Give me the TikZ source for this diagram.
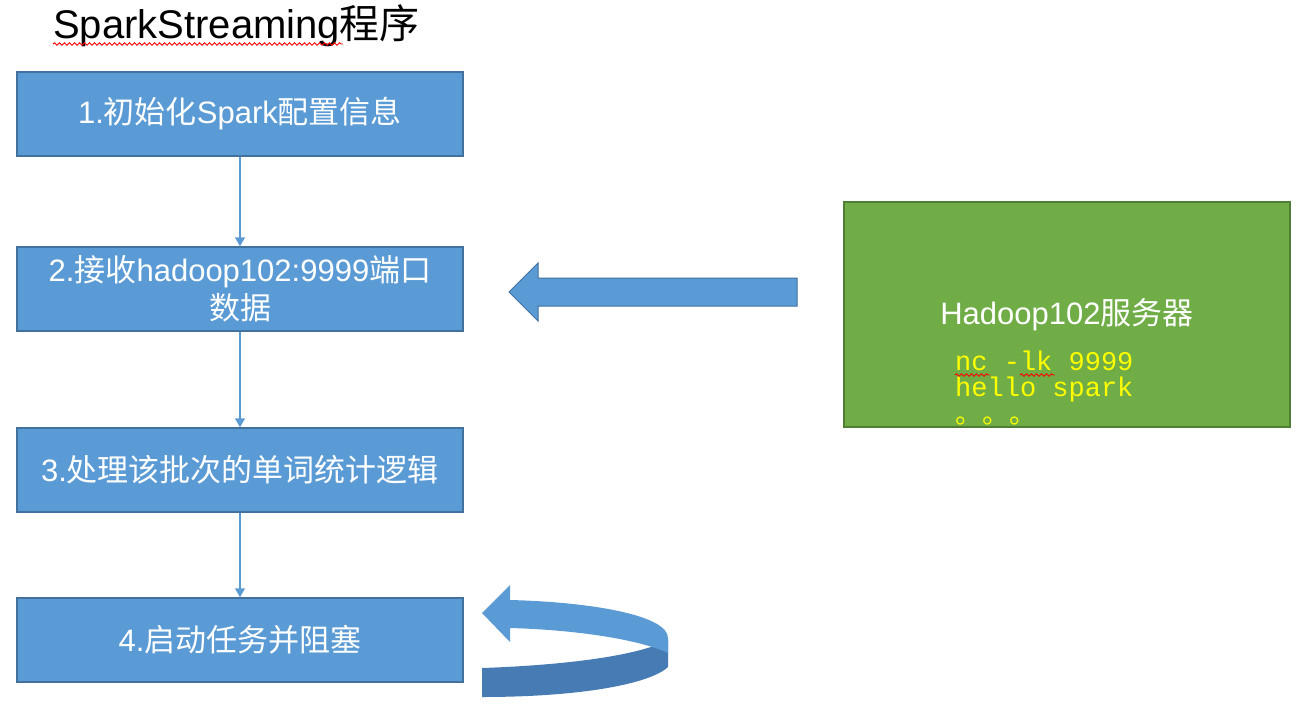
\documentclass[tikz,border=0pt]{standalone}
\usepackage{fontspec}
\setmainfont{Liberation Sans}
\setmonofont{Liberation Mono}
\newfontfamily\cjk{Noto Sans CJK SC}
\newcommand{\zh}[1]{{\cjk #1}}
\usepackage{tikz}
\usetikzlibrary{arrows.meta, decorations.pathmorphing}
\definecolor{boxblue}{HTML}{5B9BD5}
\definecolor{boxedge}{HTML}{41719C}
\definecolor{bandblue}{HTML}{477BB3}
\definecolor{srvgreen}{HTML}{70AD47}
\definecolor{srvedge}{HTML}{507E32}
\definecolor{codeyellow}{HTML}{FFFF00}
\tikzset{>={Triangle[length=9pt,width=10pt]}}
\tikzset{
  stepbox/.style={draw=boxedge, line width=1.5pt, fill=boxblue, minimum width=446pt,
    minimum height=84pt, inner sep=0pt, text=white, align=center,
    font=\fontsize{31}{38}\selectfont},
  server/.style={draw=srvedge, line width=1.5pt, fill=srvgreen, minimum width=446pt,
    minimum height=225pt, inner sep=0pt, text=white, font=\fontsize{31}{36}\selectfont},
  flow/.style={->, draw=boxblue, line width=1.5pt},
  squiggle/.style={draw=red, line width=0.9pt, decorate,
    decoration={snake, amplitude=1.2pt, segment length=5pt}}
}

\begin{document}
\begin{tikzpicture}[x=1pt,y=-1pt]
        \useasboundingbox (0,0) rectangle (1311,704);
        \node[anchor=base west, inner sep=0pt, font=\fontsize{40}{40}\selectfont] (title) at (53,38) {SparkStreaming\zh{程序}};
        \draw[squiggle] (53,44) -- (343,44);

        \node[stepbox] (s1) at (240,114) {1.\zh{初始化}Spark\zh{配置信息}};
        \node[stepbox] (s2) at (240,289) {2.\zh{接收}hadoop102:9999\zh{端口}\\\zh{数据}};
        \node[stepbox] (s3) at (240,470) {3.\zh{处理该批次的单词统计逻辑}};
        \node[stepbox] (s4) at (240,640) {4.\zh{启动任务并阻塞}};

        \draw[flow] (s1) -- (s2);
        \draw[flow] (s2) -- (s3);
        \draw[flow] (s3) -- (s4);

        \node[server] (srv) at (1067,314.5) {Hadoop102\zh{服务器}};
        \node[anchor=base west, inner sep=0pt, align=left, text=codeyellow,
          font=\ttfamily\fontsize{27}{26.5}\selectfont] (cmd) at (955,423) {nc -lk 9999\\hello spark\\\zh{。。。}};
        \draw[squiggle] (955,375) -- (990,375);
        \draw[squiggle] (1020,375) -- (1055,375);

        % feed arrow from the server
        \filldraw[fill=boxblue, draw=boxedge, line width=1pt] (509,292) -- (538,263) -- (538,278) -- (797,278)
          -- (797,306) -- (538,306) -- (538,321) -- cycle;

        % loop arrow after step 4
        \fill[bandblue] (482,668) .. controls (570,665) and (640,655) .. (668,640) -- (668,667)
          .. controls (650,684) and (580,697) .. (482,697) -- cycle;
        \fill[boxblue] (510,600) .. controls (590,602) and (668,615) .. (668,638) -- (668,653)
          .. controls (640,640) and (580,630) .. (510,628) -- (510,642) -- (482,613) -- (510,585) -- cycle;
\end{tikzpicture}
\end{document}
